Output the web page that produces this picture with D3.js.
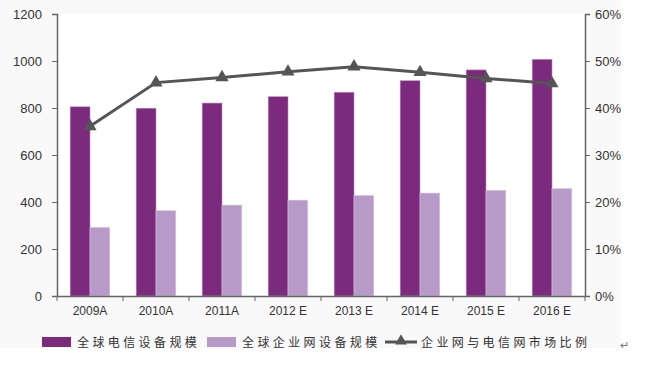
<!DOCTYPE html>
<html>
<head>
<meta charset="utf-8">
<script src="https://cdn.jsdelivr.net/npm/d3@7"></script>
<style>
  body { margin: 0; background: #fff; }
  text { font-family: Arial, "Liberation Sans", sans-serif; }
</style>
</head>
<body>
<div id="vis"></div>
<script>
const categories = ["2009A", "2010A", "2011A", "2012 E", "2013 E", "2014 E", "2015 E", "2016 E"];
const telecom = [805, 799, 821, 848, 867, 916, 962, 1007];
const enterprise = [292, 363, 387, 408, 428, 438, 450, 457];
const ratio = [36.1, 45.4, 46.5, 47.7, 48.8, 47.6, 46.3, 45.2];
const leftTicks = [0, 200, 400, 600, 800, 1000, 1200];
const rightTicks = [0, 10, 20, 30, 40, 50, 60];
const seriesNames = ["全球电信设备规模", "全球企业网设备规模", "企业网与电信网市场比例"];

const W = 648, H = 373;
const margin = { top: 14, right: 63, bottom: 77, left: 57 };
const width = W - margin.left - margin.right;
const height = H - margin.top - margin.bottom;

const root = d3.select("#vis").append("svg").attr("width", W).attr("height", H);
root.append("rect").attr("width", 621).attr("height", 348).attr("fill", "#f9f9f9");

const svg = root.append("g").attr("transform", `translate(${margin.left},${margin.top})`);
svg.append("rect").attr("width", width).attr("height", height).attr("fill", "#fff");

const x = d3.scaleBand().domain(categories).range([0, width]);
const y = d3.scaleLinear().domain([0, 1200]).range([height, 0]);
const yPct = d3.scaleLinear().domain([0, 60]).range([height, 0]);
const barW = x.bandwidth() * 0.3;

// bars
svg.selectAll(".bar-t").data(categories).join("rect")
  .attr("x", (d) => x(d) + x.bandwidth() / 2 - barW)
  .attr("y", (d, i) => y(telecom[i]))
  .attr("width", barW)
  .attr("height", (d, i) => height - y(telecom[i]))
  .attr("fill", "#7b2a7e")
  .attr("stroke", "#b58ab6").attr("stroke-width", 0.6);

svg.selectAll(".bar-e").data(categories).join("rect")
  .attr("x", (d) => x(d) + x.bandwidth() / 2)
  .attr("y", (d, i) => y(enterprise[i]))
  .attr("width", barW)
  .attr("height", (d, i) => height - y(enterprise[i]))
  .attr("fill", "#b79ac7")
  .attr("stroke", "#d9c8e0").attr("stroke-width", 0.6);

// axes
const axisColor = "#666";
const gx = svg.append("g").attr("transform", `translate(0,${height})`)
  .call(d3.axisBottom(x).tickSize(0).tickPadding(10));
gx.select(".domain").attr("stroke", axisColor).attr("stroke-width", 1.5);
gx.selectAll("text").attr("fill", "#333").style("font-size", "12px");
// category separator ticks
svg.selectAll(".sep").data(d3.range(categories.length + 1)).join("line")
  .attr("x1", (i) => i * x.step()).attr("x2", (i) => i * x.step())
  .attr("y1", height).attr("y2", height + 5)
  .attr("stroke", axisColor);

const gl = svg.append("g")
  .call(d3.axisLeft(y).tickValues(leftTicks).tickSize(5).tickPadding(10).tickFormat(d3.format("d")));
gl.select(".domain").attr("stroke", axisColor).attr("stroke-width", 1.5);
gl.selectAll("line").attr("stroke", axisColor);
gl.selectAll("text").attr("fill", "#333").style("font-size", "13px");

const gr = svg.append("g").attr("transform", `translate(${width},0)`)
  .call(d3.axisRight(yPct).tickValues(rightTicks).tickSize(5).tickPadding(5).tickFormat((d) => d + "%"));
gr.select(".domain").attr("stroke", axisColor).attr("stroke-width", 1.5);
gr.selectAll("line").attr("stroke", axisColor);
gr.selectAll("text").attr("fill", "#333").style("font-size", "13px");

// ratio line
const line = d3.line()
  .x((d, i) => x(categories[i]) + x.bandwidth() / 2)
  .y((d) => yPct(d));
svg.append("path").datum(ratio)
  .attr("fill", "none").attr("stroke", "#555").attr("stroke-width", 3)
  .attr("d", line);
svg.selectAll(".mk").data(ratio).join("path")
  .attr("transform", (d, i) => `translate(${x(categories[i]) + x.bandwidth() / 2},${yPct(d)})`)
  .attr("d", d3.symbol(d3.symbolTriangle, 75))
  .attr("fill", "#555");

// legend
const lg = root.append("g").attr("transform", "translate(0,342)");
const cjk = "'Noto Sans CJK SC', sans-serif";
lg.append("rect").attr("x", 42).attr("y", -5).attr("width", 29).attr("height", 10).attr("fill", "#7b2a7e");
lg.append("text").attr("x", 77).attr("y", 5).text(seriesNames[0])
  .style("font-family", cjk).style("font-size", "12px").style("letter-spacing", "3.4px").attr("fill", "#333");
lg.append("rect").attr("x", 207).attr("y", -5).attr("width", 29).attr("height", 10).attr("fill", "#b79ac7");
lg.append("text").attr("x", 242).attr("y", 5).text(seriesNames[1])
  .style("font-family", cjk).style("font-size", "12px").style("letter-spacing", "3.4px").attr("fill", "#333");
lg.append("line").attr("x1", 385).attr("x2", 417).attr("y1", 0).attr("y2", 0)
  .attr("stroke", "#555").attr("stroke-width", 3);
lg.append("path").attr("transform", "translate(401,-1)").attr("d", d3.symbol(d3.symbolTriangle, 60)).attr("fill", "#555");
lg.append("text").attr("x", 421).attr("y", 5).text(seriesNames[2])
  .style("font-family", cjk).style("font-size", "12px").style("letter-spacing", "3.4px").attr("fill", "#333");
root.append("text").attr("x", 620).attr("y", 349).text("↵")
  .style("font-size", "11px").attr("fill", "#777");
</script>
</body>
</html>
